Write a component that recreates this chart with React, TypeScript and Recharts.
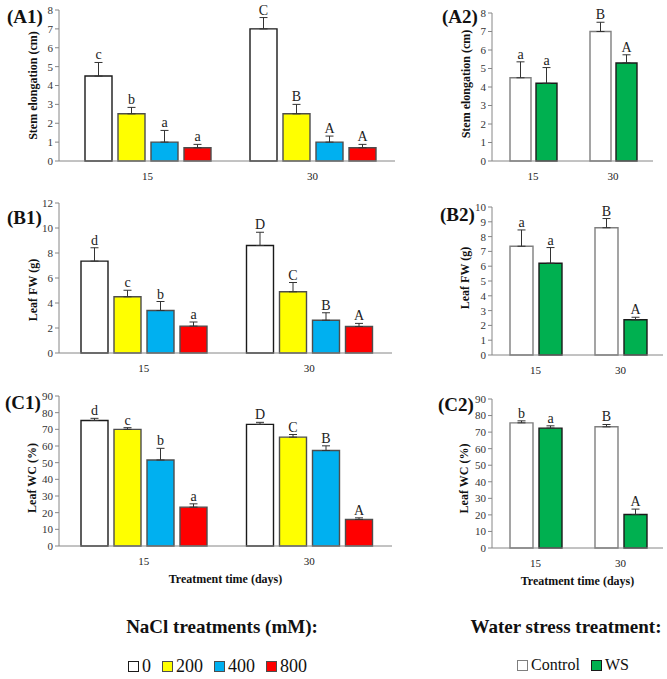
import React from 'react';
import { BarChart, Bar, XAxis, YAxis, ErrorBar, LabelList, Label, Legend } from 'recharts';

const SERIF = '"Liberation Serif", "Times New Roman", serif';

const days = ['15', '30'];
const naclLevels = ['0', '200', '400', '800'];
const waterLevels = ['Control', 'WS'];

// rows = treatment time (15, 30 days), columns = treatment level
const stemNacl = [[4.5, 2.5, 1.0, 0.7], [7.0, 2.5, 1.0, 0.7]];
const stemNaclSe = [[0.72, 0.34, 0.62, 0.18], [0.6, 0.5, 0.32, 0.18]];
const stemNaclLetters = [['c', 'b', 'a', 'a'], ['C', 'B', 'A', 'A']];

const stemWater = [[4.5, 4.2], [7.0, 5.3]];
const stemWaterSe = [[0.86, 0.85], [0.5, 0.44]];
const stemWaterLetters = [['a', 'a'], ['B', 'A']];

const fwNacl = [[7.35, 4.5, 3.4, 2.15], [8.6, 4.9, 2.62, 2.12]];
const fwNaclSe = [[1.07, 0.52, 0.72, 0.33], [1.06, 0.74, 0.6, 0.25]];
const fwNaclLetters = [['d', 'c', 'b', 'a'], ['D', 'C', 'B', 'A']];

const fwWater = [[7.35, 6.2], [8.6, 2.38]];
const fwWaterSe = [[1.1, 1.06], [0.62, 0.17]];
const fwWaterLetters = [['a', 'a'], ['B', 'A']];

const wcNacl = [[75.3, 70.0, 51.6, 23.3], [73.0, 65.3, 57.3, 15.9]];
const wcNaclSe = [[1.3, 1.0, 7.0, 2.0], [1.2, 1.6, 2.8, 1.0]];
const wcNaclLetters = [['d', 'c', 'b', 'a'], ['D', 'C', 'B', 'A']];

const wcWater = [[75.6, 72.4], [73.2, 20.2]];
const wcWaterSe = [[1.2, 1.4], [1.4, 3.3]];
const wcWaterLetters = [['b', 'a'], ['B', 'A']];

const stemTicks = [0, 1, 2, 3, 4, 5, 6, 7, 8];
const fwNaclTicks = [0, 2, 4, 6, 8, 10, 12];
const fwWaterTicks = [0, 1, 2, 3, 4, 5, 6, 7, 8, 9, 10];
const wcTicks = [0, 10, 20, 30, 40, 50, 60, 70, 80, 90];

const naclStyle = [
  { fill: '#FFFFFF', stroke: '#1a1a1a' },
  { fill: '#FFFF00', stroke: '#4d4d4d' },
  { fill: '#00B0F0', stroke: '#4d4d4d' },
  { fill: '#FF0000', stroke: '#4d4d4d' },
];
const waterStyle = [
  { fill: '#FFFFFF', stroke: '#7f7f7f' },
  { fill: '#00B050', stroke: '#1a1a1a' },
];

const buildRows = (mean: number[][], se: number[][], letters: string[][]) =>
  days.map((day, i) => {
    const row: any = { day };
    mean[i].forEach((v, j) => {
      row[`v${j}`] = v;
      row[`e${j}`] = [0, se[i][j]];
      row[`l${j}`] = letters[i][j];
    });
    return row;
  });

const AXIS = '#868686';
const YW = 55;
const MT = 14;
const MR = 6;

const letterContent = (rows: any[], j: number) => (props: any) => {
  const vb = props.viewBox ?? props;
  const x = props.x ?? vb.x;
  const y = props.y ?? vb.y;
  const width = props.width ?? vb.width;
  const height = props.height ?? vb.height;
  const row = rows[props.index ?? 0];
  const v = row[`v${j}`];
  const e = row[`e${j}`][1];
  const top = y - (e * height) / v;
  return (
    <text x={x + width / 2} y={top - 3} textAnchor='middle' fontSize={14} fontFamily={SERIF} fill='#222'>
      {props.value}
    </text>
  );
};

const legendContent = (styles: { fill: string; stroke: string }[], fontSize: number) => (props: any) => (
  <div style={{ display: 'flex', alignItems: 'center', fontFamily: SERIF, fontSize, color: '#111', whiteSpace: 'nowrap' }}>
    {(props.payload || []).map((p: any, j: number) => (
      <span key={j} style={{ display: 'inline-flex', alignItems: 'center', marginRight: 11 }}>
        <span
          style={{
            display: 'inline-block',
            width: 9,
            height: 9,
            background: styles[j].fill,
            border: `1px solid ${styles[j].stroke}`,
            marginRight: 3,
          }}
        />
        {p.value}
      </span>
    ))}
  </div>
);

interface PanelProps {
  rows: any[];
  names: string[];
  styles: { fill: string; stroke: string }[];
  ticks: number[];
  yLabel: string;
  yLabelX: number;
  yLabelDy: number;
  plot: [number, number, number, number];
  padLeft: number;
  barSize: number;
  barGap: number;
  strokeWidth: number;
  xTitle?: string;
  legend?: { x: number; y: number; fontSize: number; width: number };
}

const Panel: React.FC<PanelProps> = ({
  rows, names, styles, ticks, yLabel, yLabelX, yLabelDy, plot, padLeft, barSize, barGap, strokeWidth, xTitle, legend,
}) => {
  const [x0, x1, y0, y1] = plot;
  const left = x0 - YW;
  const top = y0 - MT;
  const xh = xTitle ? 44 : 24;
  const width = x1 - left + MR;
  const height = y1 - top + xh;
  const max = ticks[ticks.length - 1];

  return (
    <div style={{ position: 'absolute', left, top }}>
      <BarChart
        width={width}
        height={height}
        data={rows}
        margin={{ top: MT, right: MR, bottom: 0, left: 0 }}
        barSize={barSize}
        barGap={barGap}
      >
        <XAxis
          dataKey='day'
          height={xh}
          tickLine={false}
          tickSize={0}
          tickMargin={11}
          axisLine={{ stroke: AXIS }}
          tick={{ fontSize: 11, fill: '#222', fontFamily: SERIF }}
          padding={{ left: padLeft, right: 0 }}
        >
          {xTitle && (
            <Label
              content={({ viewBox }: any) => (
                <text
                  x={viewBox.x + viewBox.width / 2}
                  y={viewBox.y + 33}
                  textAnchor='middle'
                  dominantBaseline='central'
                  fontWeight='bold'
                  fontSize={12}
                  fontFamily={SERIF}
                  fill='#111'
                >
                  {xTitle}
                </text>
              )}
            />
          )}
        </XAxis>
        <YAxis
          width={YW}
          domain={[0, max]}
          ticks={ticks}
          interval={0}
          tickSize={4}
          tickMargin={2}
          tickLine={{ stroke: AXIS }}
          axisLine={{ stroke: AXIS }}
          tick={{ fontSize: 11, fill: '#333', fontFamily: SERIF }}
        >
          <Label
            content={({ viewBox }: any) => {
              const cx = yLabelX - left;
              const cy = viewBox.y + viewBox.height / 2 + yLabelDy;
              return (
                <text
                  x={cx}
                  y={cy}
                  transform={`rotate(-90 ${cx} ${cy})`}
                  textAnchor='middle'
                  dominantBaseline='central'
                  fontWeight='bold'
                  fontSize={12}
                  fontFamily={SERIF}
                  fill='#111'
                >
                  {yLabel}
                </text>
              );
            }}
          />
        </YAxis>
        {names.map((n, j) => (
          <Bar
            key={n}
            dataKey={`v${j}`}
            name={n}
            fill={styles[j].fill}
            stroke={styles[j].stroke}
            strokeWidth={strokeWidth}
            isAnimationActive={false}
          >
            <ErrorBar dataKey={`e${j}`} direction='y' width={4} stroke='#333' strokeWidth={1} />
            <LabelList dataKey={`l${j}`} content={letterContent(rows, j)} />
          </Bar>
        ))}
        {legend && (
          <Legend
            layout='horizontal'
            verticalAlign='middle'
            align='center'
            width={legend.width}
            height={22}
            wrapperStyle={{ left: legend.x - left, top: legend.y - top - 11 }}
            content={legendContent(styles, legend.fontSize)}
          />
        )}
      </BarChart>
    </div>
  );
};

const tagStyle = (x: number, y: number): React.CSSProperties => ({
  position: 'absolute',
  left: x,
  top: y - 11,
  lineHeight: '22px',
  fontSize: 19,
  fontWeight: 'bold',
  fontFamily: SERIF,
  color: '#111',
});

const titleStyle = (cx: number, cy: number): React.CSSProperties => ({
  position: 'absolute',
  left: cx,
  top: cy,
  transform: 'translate(-50%, -50%)',
  fontSize: 19,
  fontWeight: 'bold',
  fontFamily: SERIF,
  color: '#111',
  whiteSpace: 'nowrap',
});

const App: React.FC = () => {
  return (
    <div style={{ position: 'absolute', left: 0, top: 0, width: 667, height: 679, background: '#fff', overflow: 'hidden' }}>
      <Panel
        rows={buildRows(stemNacl, stemNaclSe, stemNaclLetters)}
        names={naclLevels}
        styles={naclStyle}
        ticks={stemTicks}
        yLabel='Stem elongation (cm)'
        yLabelX={33}
        yLabelDy={0}
        plot={[59, 395, 10, 161]}
        padLeft={6}
        barSize={27}
        barGap={6}
        strokeWidth={1.4}
      />
      <Panel
        rows={buildRows(stemWater, stemWaterSe, stemWaterLetters)}
        names={waterLevels}
        styles={waterStyle}
        ticks={stemTicks}
        yLabel='Stem elongation (cm)'
        yLabelX={466}
        yLabelDy={-3}
        plot={[492, 653, 13, 161]}
        padLeft={1}
        barSize={21}
        barGap={5}
        strokeWidth={1.4}
      />
      <Panel
        rows={buildRows(fwNacl, fwNaclSe, fwNaclLetters)}
        names={naclLevels}
        styles={naclStyle}
        ticks={fwNaclTicks}
        yLabel='Leaf FW (g)'
        yLabelX={33}
        yLabelDy={12}
        plot={[59, 392, 203, 353]}
        padLeft={2}
        barSize={27}
        barGap={6}
        strokeWidth={1.4}
      />
      <Panel
        rows={buildRows(fwWater, fwWaterSe, fwWaterLetters)}
        names={waterLevels}
        styles={waterStyle}
        ticks={fwWaterTicks}
        yLabel='Leaf FW (g)'
        yLabelX={465}
        yLabelDy={-3}
        plot={[492, 663, 207, 355]}
        padLeft={1}
        barSize={23}
        barGap={6}
        strokeWidth={1.4}
      />
      <Panel
        rows={buildRows(wcNacl, wcNaclSe, wcNaclLetters)}
        names={naclLevels}
        styles={naclStyle}
        ticks={wcTicks}
        yLabel='Leaf WC (%)'
        yLabelX={32}
        yLabelDy={7}
        plot={[59, 392, 396, 546]}
        padLeft={2}
        barSize={27}
        barGap={6}
        strokeWidth={1.4}
        xTitle='Treatment time (days)'
        legend={{ x: 128, y: 667, fontSize: 18, width: 200 }}
      />
      <Panel
        rows={buildRows(wcWater, wcWaterSe, wcWaterLetters)}
        names={waterLevels}
        styles={waterStyle}
        ticks={wcTicks}
        yLabel='Leaf WC (%)'
        yLabelX={464}
        yLabelDy={5}
        plot={[492, 663, 399, 548]}
        padLeft={1}
        barSize={23}
        barGap={6}
        strokeWidth={1.4}
        xTitle='Treatment time (days)'
        legend={{ x: 517, y: 667, fontSize: 16, width: 130 }}
      />

      <div style={tagStyle(7, 17)}>(A1)</div>
      <div style={tagStyle(442, 17)}>(A2)</div>
      <div style={tagStyle(7, 218)}>(B1)</div>
      <div style={tagStyle(440, 215)}>(B2)</div>
      <div style={tagStyle(5, 403)}>(C1)</div>
      <div style={tagStyle(438, 405)}>(C2)</div>

      <div style={titleStyle(222, 627)}>NaCl treatments (mM):</div>
      <div style={titleStyle(566, 627)}>Water stress treatment:</div>
    </div>
  );
};

export default App;
